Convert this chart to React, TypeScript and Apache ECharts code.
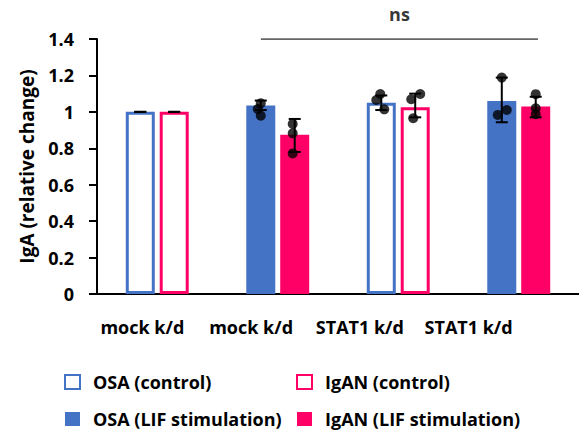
import React, { useEffect, useRef } from "react";
import * as echarts from "echarts";

// ---- data ----
const categories = ["mock k/d", "mock k/d", "STAT1 k/d", "STAT1 k/d"];
const osaControl: (number | string)[] = [1.0, "-", 1.05, "-"];
const osaLif: (number | string)[] = ["-", 1.035, "-", 1.06];
const iganControl: (number | string)[] = [1.0, "-", 1.025, "-"];
const iganLif: (number | string)[] = ["-", 0.875, "-", 1.03];

const osaErrLow = [1.0, 1.01, 1.01, 0.943];
const osaErrHigh = [1.0, 1.062, 1.09, 1.188];
const iganErrLow = [1.0, 0.78, 0.97, 0.97];
const iganErrHigh = [1.0, 0.961, 1.1, 1.083];

const osaPoints: number[][] = [[], [1.047, 1.015, 0.979], [1.098, 1.065, 1.014], [1.188, 0.983, 1.01]];
const iganPoints: number[][] = [[], [0.934, 0.882, 0.772], [1.098, 1.069, 0.965], [1.097, 1.02, 0.987]];

const yMin = 0;
const yMax = 1.4;
const yInterval = 0.2;

const bracketFrom = 1.36;
const bracketTo = 3.66;
const bracketLevel = 1.4;
const bracketText = "ns";

// ---- style ----
const BLUE = "#4472C4";
const PINK = "#FF0066";
const FONT = "'Open Sans', sans-serif";
const BAR_W = 29;
const BAR_GAP = 0.17;
const SLOT = (BAR_W * (1 + BAR_GAP)) / 2;
const osaJitter = [[], [0, -3, 0], [-1, -5, 3], [0, -4, 5]];
const iganJitter = [[], [-2, -2, -2], [5, -4, -2], [0, 0, 0]];

function errorSeries(low: number[], high: number[], offset: number) {
  return {
    type: "custom",
    xAxisIndex: 0,
    yAxisIndex: 0,
    z: 5,
    data: low.map((l, i) => [i, l, high[i]]),
    encode: { x: 0, y: [1, 2] },
    renderItem: (params: any, api: any) => {
      const c = api.value(0);
      const lo = api.coord([c, api.value(1)]);
      const hi = api.coord([c, api.value(2)]);
      const x = lo[0] + offset;
      const style = { stroke: "#000", lineWidth: 2 };
      const capW = 6;
      return {
        type: "group",
        children: [
          { type: "line", shape: { x1: x, y1: lo[1], x2: x, y2: hi[1] }, style },
          { type: "line", shape: { x1: x - capW, y1: lo[1], x2: x + capW, y2: lo[1] }, style },
          { type: "line", shape: { x1: x - capW, y1: hi[1], x2: x + capW, y2: hi[1] }, style },
        ],
      };
    },
  };
}

function pointSeries(points: number[][], jitter: number[][], offset: number) {
  const data: any[] = [];
  points.forEach((vals, i) => {
    vals.forEach((v, k) => {
      data.push({ value: [i, v], symbolOffset: [offset + (jitter[i][k] || 0), 0] });
    });
  });
  return {
    type: "scatter",
    xAxisIndex: 0,
    yAxisIndex: 0,
    z: 6,
    symbol: "circle",
    symbolSize: 10,
    itemStyle: { color: "#000" },
    data,
  };
}

export default function App() {
  const ref = useRef<HTMLDivElement>(null);
  useEffect(() => {
    if (!ref.current) return;
    const chart = echarts.init(ref.current, null, { renderer: "svg" });
    const labelFont = { fontFamily: FONT, fontWeight: "bold" as const, fontSize: 18, color: "#000" };
    const legendBase = {
      orient: "vertical",
      top: 373,
      height: 59,
      padding: 0,
      itemWidth: 15,
      itemHeight: 14,
      itemGap: 19,
      icon: "rect",
      textStyle: { ...labelFont, padding: [0, 0, 0, 8] },
    };
    chart.setOption({
      animation: false,
      backgroundColor: "#fff",
      textStyle: { fontFamily: FONT },
      grid: [
        { left: 97, width: 485, top: 39, height: 255 },
        { left: 88, width: 435, top: 39, height: 255 },
      ],
      xAxis: [
        {
          type: "category",
          gridIndex: 0,
          data: categories,
          axisLine: { lineStyle: { color: "#000", width: 2 } },
          axisTick: { alignWithLabel: true, length: 5, lineStyle: { color: "#000", width: 2 } },
          axisLabel: { show: false },
          splitLine: { show: false },
        },
        {
          type: "value",
          gridIndex: 0,
          min: 0,
          max: 4,
          show: false,
        },
        {
          type: "category",
          gridIndex: 1,
          data: categories,
          axisLine: { show: false },
          axisTick: { show: false },
          axisLabel: { ...labelFont, margin: 24, interval: 0 },
        },
      ],
      yAxis: [
        {
          type: "value",
          gridIndex: 0,
          min: yMin,
          max: yMax,
          interval: yInterval,
          name: "IgA (relative change)",
          nameLocation: "middle",
          nameGap: 61,
          nameTextStyle: { ...labelFont, fontSize: 19 },
          axisLine: { show: true, lineStyle: { color: "#000", width: 2 } },
          axisTick: { show: true, length: 8, lineStyle: { color: "#000", width: 2 } },
          axisLabel: { ...labelFont, margin: 23 },
          splitLine: { show: false },
        },
        { type: "value", gridIndex: 1, min: yMin, max: yMax, show: false },
      ],
      legend: [
        { ...legendBase, left: 64, data: ["OSA (control)", "OSA (LIF stimulation)"] },
        { ...legendBase, left: 296, data: ["IgAN (control)", "IgAN (LIF stimulation)"] },
      ],
      series: [
        {
          name: "OSA (control)",
          type: "bar",
          stack: "osa",
          barWidth: BAR_W,
          barGap: `${BAR_GAP * 100}%`,
          data: osaControl,
          itemStyle: { color: "#fff", borderColor: BLUE, borderWidth: 3 },
        },
        {
          name: "IgAN (control)",
          type: "bar",
          stack: "igan",
          barWidth: BAR_W,
          barGap: `${BAR_GAP * 100}%`,
          data: iganControl,
          itemStyle: { color: "#fff", borderColor: PINK, borderWidth: 3 },
        },
        {
          name: "OSA (LIF stimulation)",
          type: "bar",
          stack: "osa",
          barWidth: BAR_W,
          data: osaLif,
          itemStyle: { color: BLUE },
        },
        {
          name: "IgAN (LIF stimulation)",
          type: "bar",
          stack: "igan",
          barWidth: BAR_W,
          data: iganLif,
          itemStyle: { color: PINK },
        },
        errorSeries(osaErrLow, osaErrHigh, -SLOT),
        errorSeries(iganErrLow, iganErrHigh, SLOT),
        pointSeries(osaPoints, osaJitter, -SLOT),
        pointSeries(iganPoints, iganJitter, SLOT),
        {
          type: "line",
          xAxisIndex: 1,
          yAxisIndex: 0,
          symbol: "none",
          lineStyle: { color: "#333", width: 1.3 },
          data: [
            [bracketFrom, bracketLevel],
            [bracketTo, bracketLevel],
          ],
          z: 4,
        },
        {
          type: "scatter",
          xAxisIndex: 1,
          yAxisIndex: 0,
          symbolSize: 0,
          data: [[(bracketFrom + bracketTo) / 2, bracketLevel]],
          label: {
            show: true,
            position: "top",
            distance: 16,
            formatter: bracketText,
            ...labelFont,
          },
        },
      ],
    });
    return () => chart.dispose();
  }, []);
  return (
    <div
      ref={ref}
      style={{ position: "absolute", left: 0, top: 0, width: 579, height: 432 }}
    />
  );
}
